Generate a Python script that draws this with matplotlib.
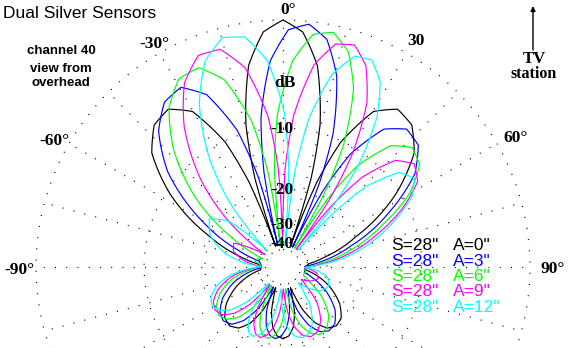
import numpy as np
import matplotlib
matplotlib.use("Agg")
import matplotlib.pyplot as plt

# ---------------- data (angle in degrees clockwise from TV station, level in dB) -------------
a0_theta = [-180, -175.2, -170.3, -165.4, -162.4, -160.4, -158.3, -155.2, -149.8, -144.0, -137.8, -131.0, -123.0,
            -112.7, -103.3, -97.0, -90.0, -83.0, -76.7, -67.4, -57.0, -49.0, -42.2, -36.0, -30.2, -24.8, -21.7,
            -19.6, -17.6, -14.6, -9.7, -4.8, 0, 4.8, 9.7, 14.6, 17.6, 19.6, 21.7, 24.8, 30.2, 36.0, 42.2, 49.0,
            57.0, 67.4, 76.7, 83.0, 90.0, 97.0, 103.3, 112.7, 123.0, 131.0, 137.8, 144.0, 149.8, 155.2, 158.3,
            160.4, 162.4, 165.4, 170.3, 175.2]
a0_db = [-21.5, -22.1, -24.3, -29.4, -37.1, -42, -36.8, -28.8, -23.2, -20.6, -19.7, -20.2, -22.5,
         -27.6, -34.8, -41.6, -42, -39.4, -30.5, -19.8, -10.5, -6.1, -4.4, -4.1, -5.5, -10.2, -17.5,
         -42, -17.1, -9.0, -3.3, -0.8, 0.0, -0.8, -3.3, -9.0, -17.1, -42, -17.5, -10.2, -5.5, -4.1, -4.4, -6.1,
         -10.5, -19.8, -30.5, -39.4, -42, -41.6, -34.8, -27.6, -22.5, -20.2, -19.7, -20.6, -23.2, -28.8, -36.8,
         -42, -37.1, -29.4, -24.3, -22.1]

a3_theta = [-178.7, -173.9, -169.1, -164.3, -159.4, -156.4, -154.4, -152.3, -149.2, -143.8, -138.2, -132.0, -125.2,
            -117.4, -107.3, -98.5, -91.9, -83.9, -75.9, -69.3, -60.4, -50.4, -42.5, -35.7, -29.6, -23.9, -18.5,
            -15.4, -13.4, -11.4, -8.4, -3.5, 1.3, 6.1, 10.9, 15.7, 20.6, 23.6, 25.6, 27.7, 30.8, 36.2, 41.9, 48.0,
            54.8, 62.7, 72.7, 81.5, 88.1, 96.1, 104.1, 110.7, 119.6, 129.6, 137.5, 144.3, 150.4, 156.1, 161.5,
            164.6, 166.6, 168.7, 171.6, 176.5]
a3_db = [-22.2, -21.4, -22.0, -24.1, -29.1, -36.8, -42, -36.4, -28.4, -22.9, -20.3, -19.5, -20.2,
         -22.4, -27.3, -34.4, -42, -42, -40.1, -28.3, -17.0, -8.7, -5.1, -3.4, -3.1, -4.7, -9.4,
         -16.9, -42, -16.5, -8.6, -3.1, -0.7, -0.2, -1.1, -3.8, -9.6, -17.8, -42, -18.3, -11.0, -6.4, -5.0, -5.3,
         -7.4, -12.6, -21.6, -31.7, -42, -42, -42, -35.3, -27.8, -22.5, -20.3, -19.9, -20.9, -23.6, -29.2,
         -37.2, -42, -37.3, -29.7, -24.4]

a6_theta = [-177.3, -172.6, -167.9, -163.2, -158.4, -153.6, -150.7, -148.7, -146.7, -143.7, -138.4, -132.8, -126.9,
            -120.3, -112.8, -103.4, -95.8, -88.1, -82.9, -77.9, -72.9, -67.7, -59.9, -52.3, -43.0, -35.5, -28.9,
            -22.9, -17.4, -12.1, -9.0, -7.0, -5.1, -2.1, 2.7, 7.4, 12.1, 16.8, 21.6, 26.4, 29.3, 31.3, 33.3, 36.3,
            41.6, 47.2, 53.1, 59.7, 67.2, 76.6, 84.2, 91.9, 97.1, 102.1, 107.1, 112.3, 120.1, 127.7, 137.0, 144.5,
            151.1, 157.1, 162.6, 167.9, 171.0, 173.0, 175.0, 177.9]
a6_db = [-24.5, -22.1, -21.2, -21.7, -23.7, -28.7, -36.4, -42, -36.2, -28.2, -22.6, -20.3, -19.5,
         -20.2, -22.3, -27.0, -34.0, -42, -40.8, -37.3, -38.4, -42, -24.6, -14.5, -7.5, -4.0, -2.4,
         -2.3, -4.0, -8.8, -16.4, -42, -16.3, -8.4, -3.1, -0.9, -0.5, -1.6, -4.4, -10.4, -18.5, -42, -19.1, -11.8,
         -7.3, -5.9, -6.4, -9.0, -14.5, -22.7, -32.2, -42, -42, -41.1, -42, -42, -35.6, -27.9, -22.6, -20.7,
         -20.3, -21.4, -23.9, -29.5, -37.4, -42, -37.5, -29.8]

a9_theta = [-178.9, -176.0, -171.3, -166.7, -162.1, -157.6, -153.0, -148.3, -145.4, -143.5, -141.6, -138.6, -133.5,
            -128.2, -122.4, -116.2, -109.2, -100.7, -94.3, -88.8, -80.2, -72.1, -64.1, -55.5, -50.0, -43.6, -35.1,
            -28.1, -21.8, -16.1, -10.8, -5.7, -2.7, -0.8, 1.2, 4.0, 8.7, 13.3, 17.9, 22.4, 27.1, 31.7, 34.6, 36.5,
            38.4, 41.4, 46.5, 51.8, 57.6, 63.8, 70.9, 79.3, 85.7, 91.3, 99.8, 107.9, 115.9, 124.5, 130.0, 136.4,
            144.9, 151.9, 158.2, 163.9, 169.2, 174.3, 177.3, 179.2]
a9_db = [-37.6, -29.8, -24.4, -21.9, -20.9, -21.4, -23.4, -28.4, -36.1, -42, -35.9, -28.0, -22.6,
         -20.2, -19.5, -20.1, -22.2, -26.8, -33.8, -42, -31.4, -27.0, -26.2, -42, -21.7, -12.9, -6.3,
         -2.9, -1.4, -1.5, -3.4, -8.5, -16.2, -42, -16.1, -8.5, -3.3, -1.3, -1.0, -2.2, -5.1, -11.1, -19.3, -42,
         -19.9, -12.6, -8.1, -6.8, -7.6, -10.7, -15.8, -23.4, -32.5, -42, -34.5, -32.9, -35.5, -42, -35.6, -28.0,
         -23.0, -21.1, -20.7, -21.7, -24.3, -29.7, -37.6, -42]

a12_theta = [-179.4, -176.6, -174.7, -172.9, -170.1, -165.6, -161.2, -156.8, -152.3, -147.9, -143.4, -140.7, -138.8,
             -136.9, -134.1, -129.2, -124.1, -118.7, -112.8, -106.3, -98.8, -93.4, -89.1, -83.9, -76.8, -66.8,
             -56.8, -49.7, -44.4, -40.2, -34.7, -27.2, -20.7, -14.8, -9.4, -4.3, 0.6, 3.4, 5.3, 7.1, 9.9, 14.4,
             18.8, 23.2, 27.7, 32.1, 36.6, 39.4, 41.2, 43.1, 45.9, 50.8, 55.9, 61.3, 67.2, 73.7, 81.2, 86.6, 90.9,
             96.1, 103.2, 113.2, 123.2, 130.3, 135.6, 139.8, 145.3, 152.8, 159.3, 165.2, 170.6, 175.7]
a12_db = [-29.8, -37.6, -42, -37.5, -29.6, -24.1, -21.6, -20.6, -21.0, -23.1, -28.1, -35.9, -42,
          -35.7, -27.9, -22.4, -20.2, -19.4, -20.0, -22.0, -26.5, -33.7, -42, -32.1, -24.8, -19.8,
          -17.9, -21.7, -42, -20.1, -11.6, -5.2, -2.0, -0.7, -1.0, -3.1, -8.3, -16.2, -42, -16.3, -8.6, -3.7,
          -1.8, -1.6, -2.9, -5.8, -11.8, -20.0, -42, -20.6, -13.2, -8.7, -7.7, -9.0, -12.3, -16.7, -23.8, -32.7, -42,
          -34.1, -29.2, -27.9, -30.0, -35.6, -42, -35.8, -28.3, -23.5, -21.5, -21.1, -22.0, -24.4]

spacing_labels = ['S=28"'] * 5
offset_labels = ['A=0"', 'A=3"', 'A=6"', 'A=9"', 'A=12"']
series_colors = ['#000000', '#0000ff', '#00ff00', '#ff00ff', '#00ffff']
ring_db = [-40, -30, -20, -10, 0]
ring_labels = ['-40', '-30', '-20', '-10']
angle_ticks = [0, 30, 60, 90, -30, -60, -90]

series = [(a0_theta, a0_db), (a3_theta, a3_db), (a6_theta, a6_db), (a9_theta, a9_db), (a12_theta, a12_db)]

# ---------------- figure ----------------
W, H = 568, 348
fig = plt.figure(figsize=(W / 100, H / 100), dpi=100)
fig.patch.set_facecolor('white')

cx, cy, R = 283, 267, 247  # pixel centre / radius of 0 dB ring
ax = fig.add_axes([(cx - R) / W, (H - cy - R) / H, 2 * R / W, 2 * R / H], projection='polar')


def fwd(d):
    return 10 ** (np.asarray(d, dtype=float) / 40.0)


def inv(r):
    r = np.asarray(r, dtype=float)
    with np.errstate(divide='ignore', invalid='ignore'):
        return 40.0 * np.log10(np.clip(r, 1e-12, None))


ax.set_rscale('function', functions=(fwd, inv))
ax.set_theta_zero_location('N')
ax.set_theta_direction(-1)
ax.set_rlim(-200, 0)
ax.set_xticks([])
ax.set_yticks([])
ax.grid(False)
ax.spines['polar'].set_visible(False)
ax.patch.set_visible(False)

dot = (0, (0.8, 8.2))
full = np.linspace(0, 2 * np.pi, 721)
for d in ring_db:
    ax.plot(full, np.full_like(full, d), color='black', lw=0.9, ls=dot, clip_on=False)
ax.plot(full, np.full_like(full, -46.0), color='black', lw=0.9, ls=(0, (0.8, 5.7)), clip_on=False)
for a in range(0, 360, 15):
    t = np.radians(a)
    ax.plot([t, t], [-40, 0], color='black', lw=0.9, ls=dot, clip_on=False)

for (th, db), col in zip(series, series_colors):
    th = np.radians(np.append(th, th[0] + 360.0))
    db = np.append(db, db[0])
    ln, = ax.plot(th, db, color=col, lw=0.85, clip_on=False, solid_joinstyle='round')
    ln.get_path()._interpolation_steps = 12


def px(x, y):
    return x / W, 1 - y / H


serif = ['Liberation Serif', 'DejaVu Serif']
sans = ['Liberation Sans', 'DejaVu Sans']

fig.text(*px(3, 18.5), 'Dual Silver Sensors', family=sans, fontsize=12.5, va='baseline', ha='left')
for txt, yb in zip(['channel 40', 'view from', 'overhead'], [54, 71.5, 86]):
    fig.text(*px(61, yb), txt, family=sans, fontsize=9.5, weight='bold', va='baseline', ha='center')

tick_pos = {0: (288, 14, '0°'), 30: (416, 45, '30'), 60: (516, 142, '60°'), 90: (553, 273, '90°'),
            -30: (154, 48, '-30°'), -60: (54, 145, '-60°'), -90: (19, 274, '-90°')}
for a in angle_ticks:
    x, y, s = tick_pos[a]
    fig.text(*px(x, y), s, family=serif, fontsize=12.5, weight='bold', va='baseline', ha='center')

fig.text(*px(285, 87), 'dB', family=serif, fontsize=12.5, weight='bold', va='baseline', ha='center')
for lab, yb in zip(ring_labels, [248, 229, 194, 133]):
    fig.text(*px(282, yb), lab, family=serif, fontsize=12.5, weight='bold', va='baseline', ha='center')

for i, (s, a, c) in enumerate(zip(spacing_labels, offset_labels, series_colors)):
    yb = 250 + i * 15.5
    fig.text(*px(391, yb), s, family=sans, fontsize=12.5, color=c, va='baseline', ha='left')
    fig.text(*px(453, yb), a, family=sans, fontsize=12.5, color=c, va='baseline', ha='left')

fig.text(*px(534, 63), 'TV', family=serif, fontsize=12, weight='bold', va='baseline', ha='center')
fig.text(*px(534, 77.5), 'station', family=serif, fontsize=11.5, weight='bold', va='baseline', ha='center')
ax.annotate('', xy=(533, H - 6), xytext=(533, H - 50), xycoords='figure pixels', textcoords='figure pixels',
            arrowprops=dict(arrowstyle='-|>', lw=1.0, color='black', mutation_scale=7, shrinkA=0, shrinkB=0))

fig.savefig('out.png', dpi=100, facecolor='white')
